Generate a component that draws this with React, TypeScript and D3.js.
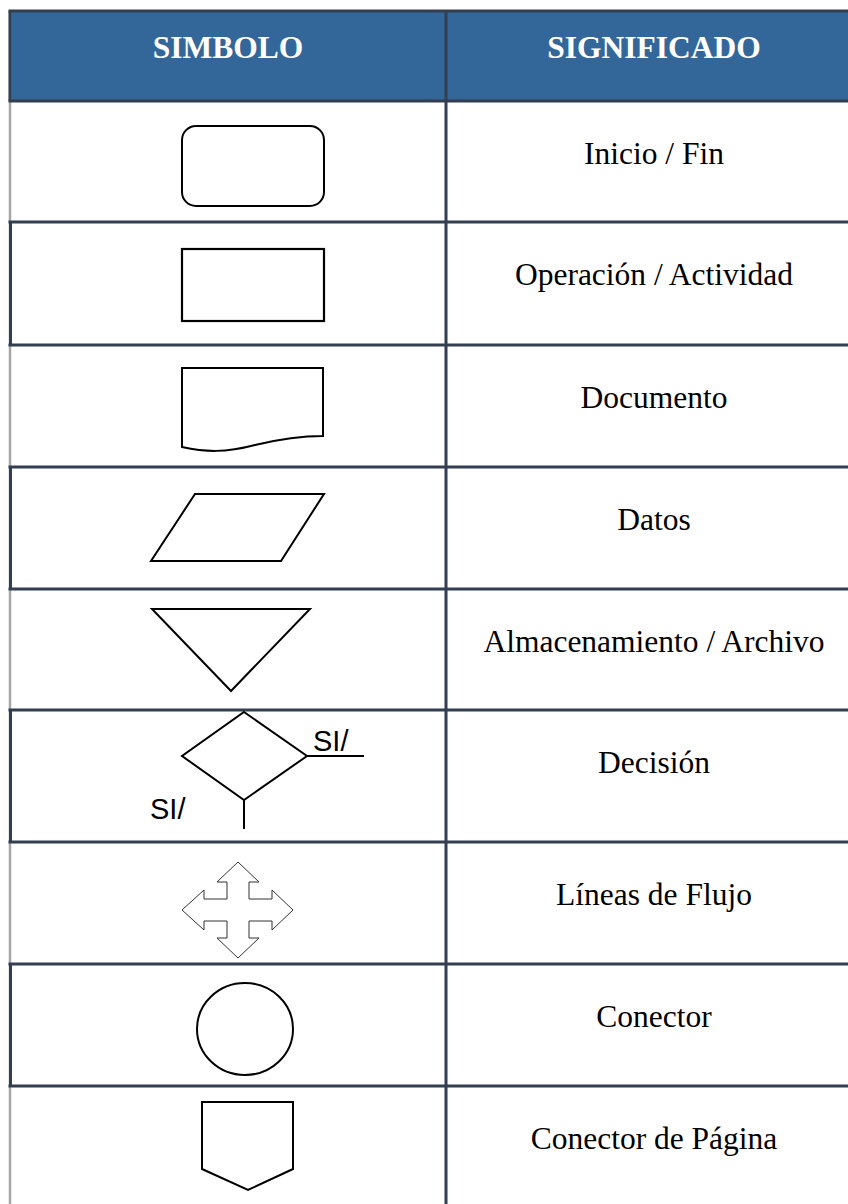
import React, { useEffect, useRef } from 'react';
import * as d3 from 'd3';

// table content
const headers = ['SIMBOLO', 'SIGNIFICADO'];
const symbols = ['terminal', 'process', 'document', 'data', 'storage', 'decision', 'flow', 'connector', 'offpage'];
const meanings = [
  'Inicio / Fin',
  'Operación / Actividad',
  'Documento',
  'Datos',
  'Almacenamiento / Archivo',
  'Decisión',
  'Líneas de Flujo',
  'Conector',
  'Conector de Página',
];
const decisionLabels = ['SI/', 'SI/'];

export default function App() {
  const ref = useRef<SVGSVGElement | null>(null);

  useEffect(() => {
    const width = 848, height = 1204;
    const left = 10, divider = 446, right = 862;
    const headTop = 11, headBottom = 101;
    const rowEdges = [101, 222, 345, 467, 589, 710, 842, 964, 1086, 1215];
    const dark = '#333f50';
    const serif = '"Liberation Serif", "Times New Roman", serif';
    const sans = '"Liberation Sans", Arial, sans-serif';

    const svg = d3.select(ref.current);
    svg.selectAll('*').remove();

    // header band
    svg.append('rect')
      .attr('x', left).attr('y', headTop)
      .attr('width', right - left).attr('height', headBottom - headTop)
      .attr('fill', '#346799');

    const colX = d3.scaleOrdinal<string, number>().domain(headers).range([(left + divider) / 2, (divider + right) / 2]);

    svg.selectAll('text.head')
      .data(headers)
      .enter()
      .append('text')
      .attr('class', 'head')
      .attr('x', d => colX(d))
      .attr('y', 58)
      .attr('text-anchor', 'middle')
      .attr('fill', '#fff')
      .style('font-family', serif)
      .style('font-weight', 'bold')
      .style('font-size', '31.5px')
      .text(d => d);

    const rows = symbols.map((s, i) => ({ s, label: meanings[i], top: rowEdges[i], bottom: rowEdges[i + 1], i }));

    // light grey outer line on the left
    svg.append('line')
      .attr('x1', left).attr('x2', left).attr('y1', headTop).attr('y2', height)
      .attr('stroke', '#a6a6a6').attr('stroke-width', 2.5);

    // dark left border on every second row + header
    svg.append('line')
      .attr('x1', left).attr('x2', left).attr('y1', headTop).attr('y2', headBottom)
      .attr('stroke', dark).attr('stroke-width', 3);
    svg.selectAll('line.lb')
      .data(rows.filter(r => r.i % 2 === 1))
      .enter()
      .append('line')
      .attr('class', 'lb')
      .attr('x1', left + 0.5).attr('x2', left + 0.5)
      .attr('y1', d => d.top).attr('y2', d => d.bottom)
      .attr('stroke', dark).attr('stroke-width', 3);

    // horizontal rules
    svg.selectAll('line.h')
      .data([headTop, ...rowEdges])
      .enter()
      .append('line')
      .attr('class', 'h')
      .attr('x1', left - 1.5).attr('x2', width)
      .attr('y1', d => d).attr('y2', d => d)
      .attr('stroke', dark).attr('stroke-width', 3);

    // column divider
    svg.append('line')
      .attr('x1', divider).attr('x2', divider).attr('y1', headTop).attr('y2', height)
      .attr('stroke', dark).attr('stroke-width', 3);

    // meaning column
    svg.selectAll('text.meaning')
      .data(rows)
      .enter()
      .append('text')
      .attr('class', 'meaning')
      .attr('x', colX(headers[1]))
      .attr('y', d => d.top + 63)
      .attr('text-anchor', 'middle')
      .attr('fill', '#000')
      .style('font-family', serif)
      .style('font-size', '31.5px')
      .text(d => d.label);

    // symbol column
    const g = svg.append('g').attr('fill', '#fff').attr('stroke', '#000').attr('stroke-width', 2);

    rows.forEach(r => {
      const t = r.top;
      const p = d3.path();
      if (r.s === 'terminal') {
        g.append('rect').attr('x', 182).attr('y', t + 25).attr('width', 142).attr('height', 80).attr('rx', 14);
        return;
      }
      if (r.s === 'process') {
        g.append('rect').attr('x', 182).attr('y', t + 27).attr('width', 142).attr('height', 72).attr('stroke-width', 2.2);
        return;
      }
      if (r.s === 'document') {
        p.moveTo(182, t + 23);
        p.lineTo(323, t + 23);
        p.lineTo(323, t + 91);
        p.bezierCurveTo(300, t + 91, 280, t + 94, 255, t + 100);
        p.bezierCurveTo(225, t + 108, 205, t + 107, 182, t + 102);
        p.closePath();
      }
      if (r.s === 'data') {
        p.moveTo(195, t + 27);
        p.lineTo(324, t + 27);
        p.lineTo(281, t + 94);
        p.lineTo(151, t + 94);
        p.closePath();
      }
      if (r.s === 'storage') {
        p.moveTo(152, t + 20);
        p.lineTo(310, t + 20);
        p.lineTo(231, t + 102);
        p.closePath();
      }
      if (r.s === 'decision') {
        p.moveTo(244, t + 2);
        p.lineTo(307, t + 46);
        p.lineTo(244, t + 90);
        p.lineTo(182, t + 46);
        p.closePath();
        g.append('line').attr('x1', 307).attr('x2', 364).attr('y1', t + 46).attr('y2', t + 46);
        g.append('line').attr('x1', 244).attr('x2', 244).attr('y1', t + 90).attr('y2', t + 119);
        svg.selectAll('text.si')
          .data(decisionLabels)
          .enter()
          .append('text')
          .attr('class', 'si')
          .attr('x', (_, k) => (k === 0 ? 313 : 150))
          .attr('y', (_, k) => (k === 0 ? t + 41 : t + 109))
          .attr('fill', '#000')
          .style('font-family', sans)
          .style('font-size', '29px')
          .text(d => d);
      }
      if (r.s === 'flow') {
        const cx = 238, cy = t + 68;
        const pts: [number, number][] = [
          [0, -48], [21, -28], [11, -28], [11, -11], [34, -11], [34, -20], [55, 0],
          [34, 20], [34, 11], [11, 11], [11, 28], [21, 28], [0, 48], [-21, 28],
          [-11, 28], [-11, 11], [-34, 11], [-34, 20], [-56, 0], [-34, -20], [-34, -11],
          [-11, -11], [-11, -28], [-21, -28],
        ];
        const line = d3.line<[number, number]>().x(d => cx + d[0]).y(d => cy + d[1]);
        g.append('path').attr('d', line(pts) + 'Z').attr('stroke', '#333').attr('stroke-width', 1);
        return;
      }
      if (r.s === 'connector') {
        g.append('ellipse').attr('cx', 245).attr('cy', t + 65).attr('rx', 48).attr('ry', 46);
        return;
      }
      if (r.s === 'offpage') {
        p.moveTo(202, t + 16);
        p.lineTo(293, t + 16);
        p.lineTo(293, t + 83);
        p.lineTo(248, t + 104);
        p.lineTo(202, t + 83);
        p.closePath();
      }
      g.append('path').attr('d', p.toString());
    });
  }, []);

  return (
    <svg
      ref={ref}
      width={848}
      height={1204}
      style={{ position: 'absolute', left: 0, top: 0, background: '#fff' }}
    />
  );
}
